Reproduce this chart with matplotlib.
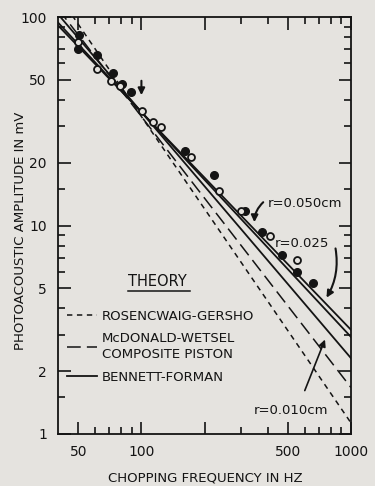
import matplotlib
matplotlib.use("Agg")
import matplotlib.pyplot as plt
from matplotlib.ticker import FixedLocator, NullFormatter

# measured points, photoacoustic amplitude (mV) vs chopping frequency (Hz)
filled_f = [50.5, 49.9, 61.6, 72.8, 81.2, 88.8, 161, 222, 313, 378, 467, 551, 658]
filled_a = [82.0, 70.2, 65.7, 53.9, 47.7, 43.7, 22.8, 17.5, 11.7, 9.3, 7.2, 6.0, 5.3]
open_f = [49.9, 61.6, 71.9, 79.4, 101, 113, 124, 173, 235, 300, 409, 551]
open_a = [75.9, 56.3, 49.3, 46.7, 35.4, 31.4, 29.7, 21.3, 14.6, 11.7, 8.9, 6.8]

# theory lines, read at the two ends of the frequency range
line_f = [40, 1000]
bf_050 = [91.1, 3.16]
bf_025 = [94.1, 2.92]
bf_010 = [103.2, 2.31]
mw = [109.6, 1.67]
rg = [128.0, 1.13]

bg = "#e5e3df"
ink = "#141414"

plt.rcParams['font.family'] = ['DejaVu Sans']
fig = plt.figure(figsize=(3.75, 4.86), dpi=100, facecolor=bg)
ax = fig.add_axes([0.1547, 0.107, 0.7813, 0.858], facecolor=bg)
ax.set_xscale('log')
ax.set_yscale('log')
ax.set_xlim(40, 1000)
ax.set_ylim(1, 100)

ax.plot(line_f, rg, color=ink, lw=1.1, dashes=(3.5, 3), label='ROSENCWAIG-GERSHO')
ax.plot(line_f, mw, color=ink, lw=1.1, dashes=(9, 4), label='McDONALD-WETSEL\nCOMPOSITE PISTON')
ax.plot(line_f, bf_050, color=ink, lw=1.3, label='BENNETT-FORMAN')
ax.plot(line_f, bf_025, color=ink, lw=1.3)
ax.plot(line_f, bf_010, color=ink, lw=1.3)

ax.plot(filled_f, filled_a, 'o', ms=5.5, color=ink, mec=ink, zorder=5)
ax.plot(open_f, open_a, 'o', ms=5, mfc=bg, mec=ink, mew=1.3, zorder=5)

# normalisation arrow at 100 Hz
ax.annotate('', xy=(100, 40.9), xytext=(100, 51),
            arrowprops=dict(arrowstyle='-|>', color=ink, lw=1.5, mutation_scale=10))

# radius labels
ax.text(400, 12.8, 'r=0.050cm', fontsize=9.5, color=ink, va='center', ha='left')
ax.annotate('', xy=(346, 10.06), xytext=(390, 13.2),
            arrowprops=dict(arrowstyle='-|>', color=ink, lw=1.5, mutation_scale=10,
                            connectionstyle='arc3,rad=0.25'))
ax.text(433, 8.24, 'r=0.025', fontsize=9.5, color=ink, va='center', ha='left')
ax.annotate('', xy=(752, 4.39), xytext=(839, 8.0),
            arrowprops=dict(arrowstyle='-|>', color=ink, lw=1.5, mutation_scale=10,
                            connectionstyle='arc3,rad=-0.2'))
ax.text(343, 1.30, 'r=0.010cm', fontsize=9.5, color=ink, va='center', ha='left')
ax.annotate('', xy=(760, 2.92), xytext=(595, 1.57),
            arrowprops=dict(arrowstyle='-|>', color=ink, lw=1.2, mutation_scale=10))

leg = ax.legend(loc='upper left', bbox_to_anchor=(0.03, 0.298), frameon=False,
                fontsize=9.5, handlelength=2.3, handletextpad=0.35,
                borderpad=0, borderaxespad=0, labelspacing=0.7)
for t in leg.get_texts():
    t.set_color(ink)
    t.set_linespacing(1.35)
ax.text(0.239, 0.365, 'THEORY', transform=ax.transAxes,
        fontsize=10.5, color=ink, ha='left', va='center')
ax.plot([0.239, 0.45], [0.343, 0.343], color=ink, lw=1.1, transform=ax.transAxes)

# ticks
ax.xaxis.set_major_locator(FixedLocator([50, 100, 200, 500, 1000]))
ax.xaxis.set_minor_locator(FixedLocator([60, 70, 80, 90, 300, 400, 600, 700, 800, 900]))
ax.set_xticklabels(['50', '100', '', '500', '1000'])
ax.xaxis.set_minor_formatter(NullFormatter())
ax.yaxis.set_major_locator(FixedLocator([1, 2, 5, 10, 20, 50, 100]))
ax.yaxis.set_minor_locator(FixedLocator([1.5, 3, 4, 6, 7, 8, 9, 15, 30, 40, 60, 70, 80, 90]))
ax.set_yticklabels(['1', '2', '5', '10', '20', '50', '100'])
ax.yaxis.set_minor_formatter(NullFormatter())
ax.tick_params(which='both', direction='in', top=True, right=True, colors=ink, width=1.2)
ax.tick_params(which='major', length=9)
ax.tick_params(which='minor', length=5)
ax.tick_params(axis='x', which='major', pad=8, labelsize=10)
ax.tick_params(axis='y', which='major', pad=8, labelsize=10)
for s in ax.spines.values():
    s.set_color(ink)
    s.set_linewidth(1.3)

ax.set_xlabel('CHOPPING FREQUENCY IN HZ', fontsize=9.5, color=ink)
ax.set_ylabel('PHOTOACOUSTIC AMPLITUDE IN mV', fontsize=9.5, color=ink)
ax.xaxis.set_label_coords(0.502, -0.091)
ax.yaxis.set_label_coords(-0.107, 0.487)

fig.savefig('out.png', dpi=100, facecolor=bg)
